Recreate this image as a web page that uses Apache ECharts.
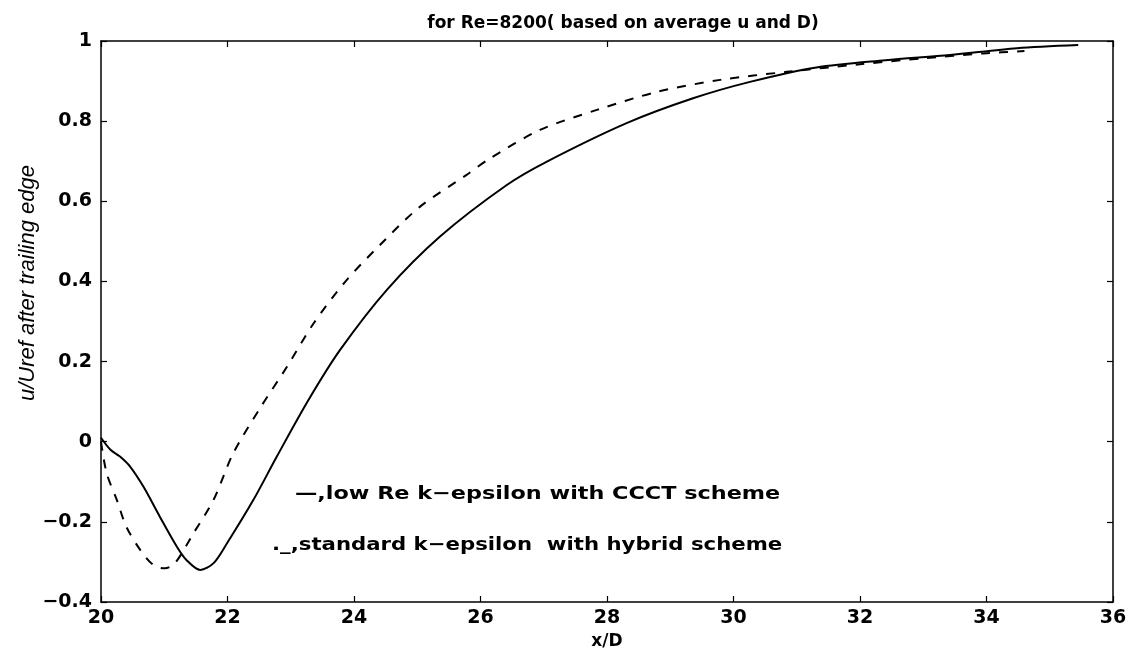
<!DOCTYPE html>
<html><head><meta charset="utf-8">
<script src="https://cdn.jsdelivr.net/npm/echarts@6/dist/echarts.min.js"></script>
<style>html,body{margin:0;padding:0;background:#fff}#c{width:1142px;height:651px}</style>
</head><body><div id="c"></div>
<script>
// low Re k-epsilon with CCCT scheme (solid)
const solidX = [20.0, 20.15, 20.30, 20.46, 20.67, 20.93, 21.20, 21.35, 21.57, 21.78, 21.99, 22.41, 22.78, 23.28, 23.78, 24.52, 25.36, 26.41, 27.05, 28.31, 29.36, 30.26, 31.31, 32.4, 33.42, 34.48, 35.45];
const solidY = [0.01, -0.02, -0.037, -0.062, -0.112, -0.187, -0.262, -0.295, -0.320, -0.303, -0.254, -0.145, -0.037, 0.104, 0.229, 0.379, 0.512, 0.640, 0.699, 0.795, 0.857, 0.898, 0.934, 0.952, 0.965, 0.982, 0.99];
// standard k-epsilon with hybrid scheme (dashed)
const dashX = [20.0, 20.09, 20.25, 20.40, 20.62, 20.83, 21.01, 21.17, 21.46, 21.78, 22.09, 22.54, 22.94, 23.36, 23.86, 24.41, 25.04, 25.78, 26.15, 26.94, 27.84, 28.79, 29.79, 30.84, 32.0, 33.0, 33.95, 34.6];
const dashY = [0.0, -0.079, -0.145, -0.212, -0.270, -0.308, -0.316, -0.303, -0.229, -0.145, -0.029, 0.090, 0.187, 0.295, 0.399, 0.491, 0.586, 0.666, 0.707, 0.778, 0.828, 0.873, 0.903, 0.923, 0.942, 0.957, 0.969, 0.975];
const xTicks = [20, 22, 24, 26, 28, 30, 32, 34, 36];
const yTicks = [-0.4, -0.2, 0, 0.2, 0.4, 0.6, 0.8, 1];
const titleText = 'for Re=8200( based on average u and D)';
const xName = 'x/D';
const yName = 'u/Uref after trailing edge';
const legendSolid = '\u2014,low Re k\u2212epsilon with CCCT scheme';
const legendDash = '._,standard k\u2212epsilon  with hybrid scheme';

const font = 'DejaVu Sans, Verdana, sans-serif';
const zip = (a, b) => a.map((v, i) => [v, b[i]]);
const chart = echarts.init(document.getElementById('c'));
const axisLineStyle = {show: true, onZero: false, lineStyle: {color: '#000', width: 1.5}};
const tickStyle = {show: true, inside: true, length: 6, lineStyle: {color: '#000', width: 1.2}};
const fmtY = v => {
  const r = Math.round(v * 10) / 10;
  if (r === 0) return '0';
  return (r < 0 ? '\u2212' : '') + String(Math.abs(r));
};
chart.setOption({
  animation: false,
  backgroundColor: '#fff',
  title: {text: titleText, left: 618, top: 10, textAlign: 'center',
    textStyle: {fontFamily: font, fontSize: 17, fontWeight: 'bold', color: '#000'}},
  grid: {left: 101, right: 29, top: 41, bottom: 49, containLabel: false, outerBoundsMode: 'none'},
  xAxis: [{
    type: 'value', min: 20, max: 36, interval: 2, position: 'bottom',
    name: xName, nameLocation: 'middle', nameGap: 25,
    nameTextStyle: {fontFamily: font, fontSize: 17, fontWeight: 'bold', color: '#000'},
    axisLine: axisLineStyle, axisTick: tickStyle, splitLine: {show: false},
    axisLabel: {fontFamily: font, fontSize: 19, fontWeight: 'bold', color: '#000', margin: 7,
      formatter: v => xTicks.includes(v) ? String(v) : ''}
  }, {
    type: 'value', min: 20, max: 36, interval: 2, position: 'top',
    axisLine: axisLineStyle, axisTick: tickStyle, splitLine: {show: false}, axisLabel: {show: false}
  }],
  yAxis: [{
    type: 'value', min: -0.4, max: 1, interval: 0.2, position: 'left',
    axisLine: axisLineStyle, axisTick: tickStyle, splitLine: {show: false},
    axisLabel: {fontFamily: font, fontSize: 19, fontWeight: 'bold', color: '#000', margin: 9, formatter: fmtY}
  }, {
    type: 'value', min: -0.4, max: 1, interval: 0.2, position: 'right',
    axisLine: axisLineStyle, axisTick: tickStyle, splitLine: {show: false}, axisLabel: {show: false}
  }],
  series: [{
    type: 'line', xAxisIndex: 0, yAxisIndex: 0, data: zip(solidX, solidY), smooth: 0.3,
    showSymbol: false, lineStyle: {color: '#000', width: 2, type: 'solid'}
  }, {
    type: 'line', xAxisIndex: 0, yAxisIndex: 0, data: zip(dashX, dashY), smooth: 0.3,
    showSymbol: false, lineStyle: {color: '#000', width: 2, type: [9, 9]}
  }],
  graphic: [{
    type: 'text', x: 28, y: 283, rotation: Math.PI / 2,
    style: {text: yName, fontFamily: 'Liberation Sans Narrow, Liberation Sans, Arial, sans-serif', fontSize: 22, fontStyle: 'italic', fill: '#000',
      align: 'center', verticalAlign: 'middle'}
  }, {
    type: 'text', x: 295, y: 485, scaleX: 1.24,
    style: {text: legendSolid, fontFamily: font, fontSize: 18, fontWeight: 'bold', fill: '#000'}
  }, {
    type: 'text', x: 272, y: 536, scaleX: 1.18,
    style: {text: legendDash, fontFamily: font, fontSize: 18, fontWeight: 'bold', fill: '#000'}
  }]
});
</script></body></html>
